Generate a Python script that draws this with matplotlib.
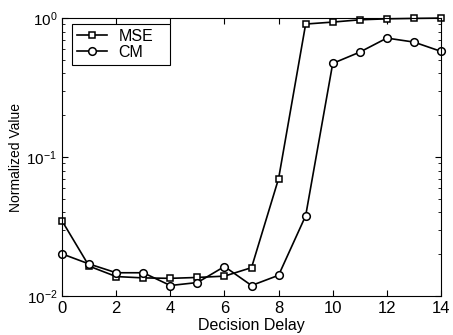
import numpy as np
import matplotlib.pyplot as plt

plt.rcParams['font.family'] = ['Liberation Sans', 'DejaVu Sans']
plt.rcParams['mathtext.fontset'] = 'custom'
plt.rcParams['mathtext.rm'] = 'Liberation Sans'
plt.rcParams['mathtext.it'] = 'Liberation Sans:italic'
plt.rcParams['mathtext.bf'] = 'Liberation Sans:bold'

delay = [0, 1, 2, 3, 4, 5, 6, 7, 8, 9, 10, 11, 12, 13, 14]
mse = [0.0347, 0.0164, 0.0138, 0.0135, 0.0134, 0.0136, 0.0139, 0.0160, 0.070,
       0.906, 0.936, 0.972, 0.988, 0.995, 1.0]
cm = [0.0201, 0.0170, 0.0147, 0.0147, 0.0119, 0.0125, 0.0163, 0.0119, 0.0141,
      0.0378, 0.472, 0.569, 0.718, 0.672, 0.576]

fig = plt.figure(figsize=(4.53, 3.35), dpi=100)
ax = fig.add_axes([0.137, 0.1164, 0.8365, 0.8296])

ax.plot(delay, mse, color='k', lw=1.2, marker='s', ms=4.5, mfc='white', mec='k', mew=1.1,
        label='MSE', clip_on=False)
ax.plot(delay, cm, color='k', lw=1.2, marker='o', ms=5.5, mfc='white', mec='k', mew=1.1,
        label='CM', clip_on=False)

ax.set_yscale('log')
ax.set_xlim(0, 14)
ax.set_ylim(1e-2, 1)
ax.set_xticks(range(0, 15, 2))
ax.tick_params(which='both', direction='in', top=True, right=True, labelsize=12)
ax.tick_params(axis='y', labelsize=11)
ax.tick_params(which='major', length=4)
ax.tick_params(which='minor', length=2)
ax.set_xlabel('Decision Delay', fontsize=11.5, labelpad=1.5)
ax.set_ylabel('Normalized Value', fontsize=10)
ax.yaxis.set_label_coords(-0.103, 0.5)

# legend box: fixed width like the original
leg = ax.legend(loc='upper left', bbox_to_anchor=(0.0264, 0, 0.2586, 0.978), mode='expand',
                fontsize=11.5, fancybox=False, edgecolor='k', framealpha=1,
                handlelength=1.9, handletextpad=0.7, labelspacing=0.05,
                borderpad=0.3, borderaxespad=0)
leg.get_frame().set_linewidth(0.8)

fig.savefig('out.png', dpi=100)
